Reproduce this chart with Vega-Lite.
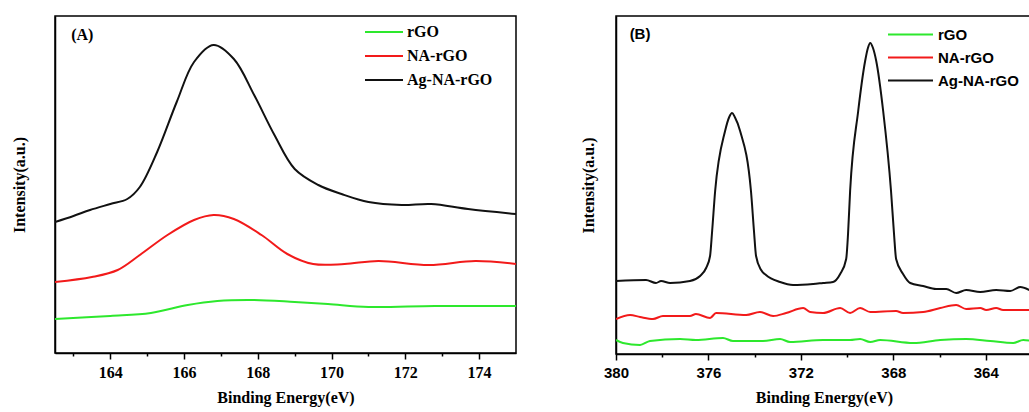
{
  "$schema": "https://vega.github.io/schema/vega-lite/v6.json",
  "padding": {"left": 10, "top": 15, "right": 0, "bottom": 5},
  "background": "white",
  "config": {"view": {"stroke": "black", "strokeWidth": 1.5}, "concat": {"spacing": 62}},
  "datasets": {
    "a": [
      {"series": "Ag-NA-rGO", "energy": 162.5, "intensity": 131},
      {"series": "Ag-NA-rGO", "energy": 163.0, "intensity": 137},
      {"series": "Ag-NA-rGO", "energy": 163.45, "intensity": 143},
      {"series": "Ag-NA-rGO", "energy": 164.0, "intensity": 149},
      {"series": "Ag-NA-rGO", "energy": 164.46, "intensity": 154},
      {"series": "Ag-NA-rGO", "energy": 164.8, "intensity": 166},
      {"series": "Ag-NA-rGO", "energy": 165.27, "intensity": 201},
      {"series": "Ag-NA-rGO", "energy": 165.8, "intensity": 251},
      {"series": "Ag-NA-rGO", "energy": 166.27, "intensity": 291},
      {"series": "Ag-NA-rGO", "energy": 166.8, "intensity": 308},
      {"series": "Ag-NA-rGO", "energy": 167.35, "intensity": 294},
      {"series": "Ag-NA-rGO", "energy": 167.9, "intensity": 258},
      {"series": "Ag-NA-rGO", "energy": 168.45, "intensity": 218},
      {"series": "Ag-NA-rGO", "energy": 169.0, "intensity": 184},
      {"series": "Ag-NA-rGO", "energy": 169.64, "intensity": 168},
      {"series": "Ag-NA-rGO", "energy": 170.27, "intensity": 159},
      {"series": "Ag-NA-rGO", "energy": 171.0, "intensity": 151},
      {"series": "Ag-NA-rGO", "energy": 171.9, "intensity": 148},
      {"series": "Ag-NA-rGO", "energy": 172.7, "intensity": 149},
      {"series": "Ag-NA-rGO", "energy": 173.7, "intensity": 144},
      {"series": "Ag-NA-rGO", "energy": 175.0, "intensity": 139},
      {"series": "NA-rGO", "energy": 162.5, "intensity": 71},
      {"series": "NA-rGO", "energy": 163.5, "intensity": 76},
      {"series": "NA-rGO", "energy": 164.2, "intensity": 83},
      {"series": "NA-rGO", "energy": 164.8, "intensity": 98},
      {"series": "NA-rGO", "energy": 165.55, "intensity": 118},
      {"series": "NA-rGO", "energy": 166.27, "intensity": 133},
      {"series": "NA-rGO", "energy": 166.8, "intensity": 138},
      {"series": "NA-rGO", "energy": 167.35, "intensity": 134},
      {"series": "NA-rGO", "energy": 168.1, "intensity": 118},
      {"series": "NA-rGO", "energy": 168.8, "intensity": 99},
      {"series": "NA-rGO", "energy": 169.5, "intensity": 89},
      {"series": "NA-rGO", "energy": 170.35, "intensity": 89},
      {"series": "NA-rGO", "energy": 171.27, "intensity": 92},
      {"series": "NA-rGO", "energy": 172.64, "intensity": 88},
      {"series": "NA-rGO", "energy": 173.9, "intensity": 92},
      {"series": "NA-rGO", "energy": 175.0, "intensity": 89},
      {"series": "rGO", "energy": 162.5, "intensity": 34},
      {"series": "rGO", "energy": 164.0, "intensity": 37},
      {"series": "rGO", "energy": 165.1, "intensity": 40},
      {"series": "rGO", "energy": 166.1, "intensity": 48},
      {"series": "rGO", "energy": 166.9, "intensity": 52},
      {"series": "rGO", "energy": 167.9, "intensity": 53},
      {"series": "rGO", "energy": 169.0, "intensity": 51},
      {"series": "rGO", "energy": 169.9, "intensity": 49},
      {"series": "rGO", "energy": 171.0, "intensity": 46},
      {"series": "rGO", "energy": 172.8, "intensity": 47},
      {"series": "rGO", "energy": 175.0, "intensity": 47}
    ],
    "b": [
      {"series": "Ag-NA-rGO", "energy": 380.0, "intensity": 73},
      {"series": "Ag-NA-rGO", "energy": 378.7, "intensity": 74},
      {"series": "Ag-NA-rGO", "energy": 378.27, "intensity": 71},
      {"series": "Ag-NA-rGO", "energy": 378.05, "intensity": 73},
      {"series": "Ag-NA-rGO", "energy": 377.66, "intensity": 71},
      {"series": "Ag-NA-rGO", "energy": 376.8, "intensity": 73},
      {"series": "Ag-NA-rGO", "energy": 376.36, "intensity": 78},
      {"series": "Ag-NA-rGO", "energy": 376.1, "intensity": 86},
      {"series": "Ag-NA-rGO", "energy": 375.93, "intensity": 98},
      {"series": "Ag-NA-rGO", "energy": 375.84, "intensity": 123},
      {"series": "Ag-NA-rGO", "energy": 375.71, "intensity": 163},
      {"series": "Ag-NA-rGO", "energy": 375.28, "intensity": 223},
      {"series": "Ag-NA-rGO", "energy": 375.1, "intensity": 237},
      {"series": "Ag-NA-rGO", "energy": 374.98, "intensity": 241},
      {"series": "Ag-NA-rGO", "energy": 374.86, "intensity": 237},
      {"series": "Ag-NA-rGO", "energy": 374.63, "intensity": 223},
      {"series": "Ag-NA-rGO", "energy": 374.16, "intensity": 163},
      {"series": "Ag-NA-rGO", "energy": 374.03, "intensity": 123},
      {"series": "Ag-NA-rGO", "energy": 373.94, "intensity": 98},
      {"series": "Ag-NA-rGO", "energy": 373.72, "intensity": 84},
      {"series": "Ag-NA-rGO", "energy": 373.51, "intensity": 79},
      {"series": "Ag-NA-rGO", "energy": 372.9, "intensity": 72},
      {"series": "Ag-NA-rGO", "energy": 372.34, "intensity": 69},
      {"series": "Ag-NA-rGO", "energy": 371.47, "intensity": 70},
      {"series": "Ag-NA-rGO", "energy": 371.04, "intensity": 71},
      {"series": "Ag-NA-rGO", "energy": 370.61, "intensity": 72},
      {"series": "Ag-NA-rGO", "energy": 370.3, "intensity": 80},
      {"series": "Ag-NA-rGO", "energy": 370.04, "intensity": 95},
      {"series": "Ag-NA-rGO", "energy": 369.96, "intensity": 120},
      {"series": "Ag-NA-rGO", "energy": 369.87, "intensity": 163},
      {"series": "Ag-NA-rGO", "energy": 369.52, "intensity": 243},
      {"series": "Ag-NA-rGO", "energy": 369.22, "intensity": 293},
      {"series": "Ag-NA-rGO", "energy": 369.1, "intensity": 306},
      {"series": "Ag-NA-rGO", "energy": 369.0, "intensity": 311},
      {"series": "Ag-NA-rGO", "energy": 368.88, "intensity": 306},
      {"series": "Ag-NA-rGO", "energy": 368.74, "intensity": 293},
      {"series": "Ag-NA-rGO", "energy": 368.44, "intensity": 243},
      {"series": "Ag-NA-rGO", "energy": 368.1, "intensity": 163},
      {"series": "Ag-NA-rGO", "energy": 367.97, "intensity": 120},
      {"series": "Ag-NA-rGO", "energy": 367.88, "intensity": 95},
      {"series": "Ag-NA-rGO", "energy": 367.58, "intensity": 80},
      {"series": "Ag-NA-rGO", "energy": 367.27, "intensity": 71},
      {"series": "Ag-NA-rGO", "energy": 366.71, "intensity": 68},
      {"series": "Ag-NA-rGO", "energy": 366.15, "intensity": 65},
      {"series": "Ag-NA-rGO", "energy": 365.71, "intensity": 65},
      {"series": "Ag-NA-rGO", "energy": 365.28, "intensity": 61},
      {"series": "Ag-NA-rGO", "energy": 364.85, "intensity": 64},
      {"series": "Ag-NA-rGO", "energy": 364.24, "intensity": 62},
      {"series": "Ag-NA-rGO", "energy": 363.55, "intensity": 64},
      {"series": "Ag-NA-rGO", "energy": 362.94, "intensity": 63},
      {"series": "Ag-NA-rGO", "energy": 362.51, "intensity": 67},
      {"series": "Ag-NA-rGO", "energy": 362.03, "intensity": 63},
      {"series": "NA-rGO", "energy": 380.0, "intensity": 35},
      {"series": "NA-rGO", "energy": 379.39, "intensity": 39},
      {"series": "NA-rGO", "energy": 378.96, "intensity": 37},
      {"series": "NA-rGO", "energy": 378.4, "intensity": 35},
      {"series": "NA-rGO", "energy": 377.97, "intensity": 38},
      {"series": "NA-rGO", "energy": 376.8, "intensity": 38},
      {"series": "NA-rGO", "energy": 376.54, "intensity": 40},
      {"series": "NA-rGO", "energy": 375.93, "intensity": 36},
      {"series": "NA-rGO", "energy": 375.67, "intensity": 41},
      {"series": "NA-rGO", "energy": 374.37, "intensity": 39},
      {"series": "NA-rGO", "energy": 373.77, "intensity": 42},
      {"series": "NA-rGO", "energy": 373.2, "intensity": 38},
      {"series": "NA-rGO", "energy": 372.64, "intensity": 41},
      {"series": "NA-rGO", "energy": 371.9, "intensity": 46},
      {"series": "NA-rGO", "energy": 371.6, "intensity": 42},
      {"series": "NA-rGO", "energy": 371.04, "intensity": 41},
      {"series": "NA-rGO", "energy": 370.3, "intensity": 46},
      {"series": "NA-rGO", "energy": 369.87, "intensity": 41},
      {"series": "NA-rGO", "energy": 369.44, "intensity": 46},
      {"series": "NA-rGO", "energy": 369.0, "intensity": 42},
      {"series": "NA-rGO", "energy": 367.88, "intensity": 43},
      {"series": "NA-rGO", "energy": 367.58, "intensity": 41},
      {"series": "NA-rGO", "energy": 366.71, "intensity": 42},
      {"series": "NA-rGO", "energy": 365.97, "intensity": 46},
      {"series": "NA-rGO", "energy": 365.28, "intensity": 49},
      {"series": "NA-rGO", "energy": 364.85, "intensity": 45},
      {"series": "NA-rGO", "energy": 364.24, "intensity": 46},
      {"series": "NA-rGO", "energy": 363.98, "intensity": 44},
      {"series": "NA-rGO", "energy": 363.55, "intensity": 46},
      {"series": "NA-rGO", "energy": 363.25, "intensity": 44},
      {"series": "NA-rGO", "energy": 362.03, "intensity": 44},
      {"series": "rGO", "energy": 380.0, "intensity": 14},
      {"series": "rGO", "energy": 379.7, "intensity": 11},
      {"series": "rGO", "energy": 378.96, "intensity": 9},
      {"series": "rGO", "energy": 378.53, "intensity": 13},
      {"series": "rGO", "energy": 377.23, "intensity": 15},
      {"series": "rGO", "energy": 376.54, "intensity": 14},
      {"series": "rGO", "energy": 375.37, "intensity": 16},
      {"series": "rGO", "energy": 374.94, "intensity": 13},
      {"series": "rGO", "energy": 373.64, "intensity": 13},
      {"series": "rGO", "energy": 372.9, "intensity": 15},
      {"series": "rGO", "energy": 372.47, "intensity": 12},
      {"series": "rGO", "energy": 371.04, "intensity": 14},
      {"series": "rGO", "energy": 369.87, "intensity": 14},
      {"series": "rGO", "energy": 369.44, "intensity": 15},
      {"series": "rGO", "energy": 369.0, "intensity": 12},
      {"series": "rGO", "energy": 368.57, "intensity": 14},
      {"series": "rGO", "energy": 367.14, "intensity": 11},
      {"series": "rGO", "energy": 365.97, "intensity": 14},
      {"series": "rGO", "energy": 364.85, "intensity": 15},
      {"series": "rGO", "energy": 363.81, "intensity": 13},
      {"series": "rGO", "energy": 362.81, "intensity": 11},
      {"series": "rGO", "energy": 362.38, "intensity": 14},
      {"series": "rGO", "energy": 362.03, "intensity": 13}
    ],
    "labA": [{"label": "(A)", "energy": 163.24, "intensity": 318}],
    "labB": [{"label": "(B)", "energy": 378.96, "intensity": 320}]
  },
  "resolve": {"scale": {"color": "independent"}, "legend": {"color": "independent"}},
  "hconcat": [
    {
      "width": 461,
      "height": 337,
      "layer": [
        {
          "data": {"name": "a"},
          "mark": {"type": "line", "strokeWidth": 2, "interpolate": "catmull-rom", "clip": true},
          "encoding": {
            "x": {"field": "energy", "type": "quantitative",
              "scale": {"domain": [162.5, 175], "nice": false, "zero": false},
              "axis": {"title": "Binding Energy(eV)", "values": [163,164,165,166,167,168,169,170,171,172,173,174],
                "labelExpr": "datum.value % 2 === 0 ? datum.label : ''", "labelOverlap": false, "labelFlush": false,
                "tickSize": {"condition": {"test": "datum.value % 2 === 1", "value": 3}, "value": 6},
                "grid": false, "domainColor": "black", "domainWidth": 1.5, "tickColor": "black", "tickWidth": 1.5,
                "labelFont": "Liberation Serif", "labelFontWeight": "bold", "labelFontSize": 16, "labelColor": "black", "labelPadding": 5,
                "titleFont": "Liberation Serif", "titleFontWeight": "bold", "titleFontSize": 16, "titleColor": "black", "titlePadding": 9}},
            "y": {"field": "intensity", "type": "quantitative",
              "scale": {"domain": [0, 337], "nice": false},
              "axis": {"title": "Intensity(a.u.)", "labels": false, "ticks": false, "grid": false,
                "domainColor": "black", "domainWidth": 1.5,
                "titleFont": "Liberation Serif", "titleFontWeight": "bold", "titleFontSize": 16, "titleColor": "black", "titlePadding": 28}},
            "color": {"field": "series", "type": "nominal",
              "scale": {"domain": ["rGO", "NA-rGO", "Ag-NA-rGO"], "range": ["#2de82d", "#f21a1a", "#111111"]},
              "legend": {"title": null, "orient": "none", "legendX": 321, "legendY": 8,
                "symbolType": "M-3.8,0L3.8,0", "symbolSize": 100, "symbolStrokeWidth": 2, "labelOffset": 15,
                "labelFont": "Liberation Serif", "labelFontWeight": "bold", "labelFontSize": 16, "labelColor": "black",
                "rowPadding": 8}}
          }
        },
        {
          "data": {"name": "labA"},
          "mark": {"type": "text", "font": "Liberation Serif", "fontWeight": "bold", "fontSize": 16, "color": "black"},
          "encoding": {
            "x": {"field": "energy", "type": "quantitative"},
            "y": {"field": "intensity", "type": "quantitative"},
            "text": {"field": "label", "type": "nominal"}
          }
        }
      ]
    },
    {
      "width": 416,
      "height": 338,
      "layer": [
        {
          "data": {"name": "b"},
          "mark": {"type": "line", "strokeWidth": 2, "interpolate": "monotone", "clip": true},
          "encoding": {
            "x": {"field": "energy", "type": "quantitative",
              "scale": {"domain": [380, 362], "nice": false, "zero": false},
              "axis": {"title": "Binding Energy(eV)", "values": [380,378,376,374,372,370,368,366,364,362],
                "labelExpr": "datum.value % 4 === 0 ? datum.label : ''", "labelOverlap": false, "labelFlush": false,
                "tickSize": {"condition": {"test": "datum.value % 4 === 2", "value": 3}, "value": 6},
                "grid": false, "domainColor": "black", "domainWidth": 1.5, "tickColor": "black", "tickWidth": 1.5,
                "labelFont": "Liberation Sans", "labelFontWeight": "bold", "labelFontSize": 15, "labelColor": "black", "labelPadding": 5,
                "titleFont": "Liberation Serif", "titleFontWeight": "bold", "titleFontSize": 16, "titleColor": "black", "titlePadding": 9}},
            "y": {"field": "intensity", "type": "quantitative",
              "scale": {"domain": [0, 338], "nice": false},
              "axis": {"title": "Intensity(a.u.)", "labels": false, "ticks": false, "grid": false,
                "domainColor": "black", "domainWidth": 1.5,
                "titleFont": "Liberation Serif", "titleFontWeight": "bold", "titleFontSize": 16, "titleColor": "black", "titlePadding": 20}},
            "color": {"field": "series", "type": "nominal",
              "scale": {"domain": ["rGO", "NA-rGO", "Ag-NA-rGO"], "range": ["#2de82d", "#f21a1a", "#111111"]},
              "legend": {"title": null, "orient": "none", "legendX": 287, "legendY": 11,
                "symbolType": "M-4.5,0L4.5,0", "symbolSize": 100, "symbolStrokeWidth": 2, "labelOffset": 20,
                "labelFont": "Liberation Sans", "labelFontWeight": "bold", "labelFontSize": 15, "labelColor": "black",
                "rowPadding": 7}}
          }
        },
        {
          "data": {"name": "labB"},
          "mark": {"type": "text", "font": "Liberation Sans", "fontWeight": "bold", "fontSize": 15, "color": "black"},
          "encoding": {
            "x": {"field": "energy", "type": "quantitative"},
            "y": {"field": "intensity", "type": "quantitative"},
            "text": {"field": "label", "type": "nominal"}
          }
        }
      ]
    }
  ]
}
